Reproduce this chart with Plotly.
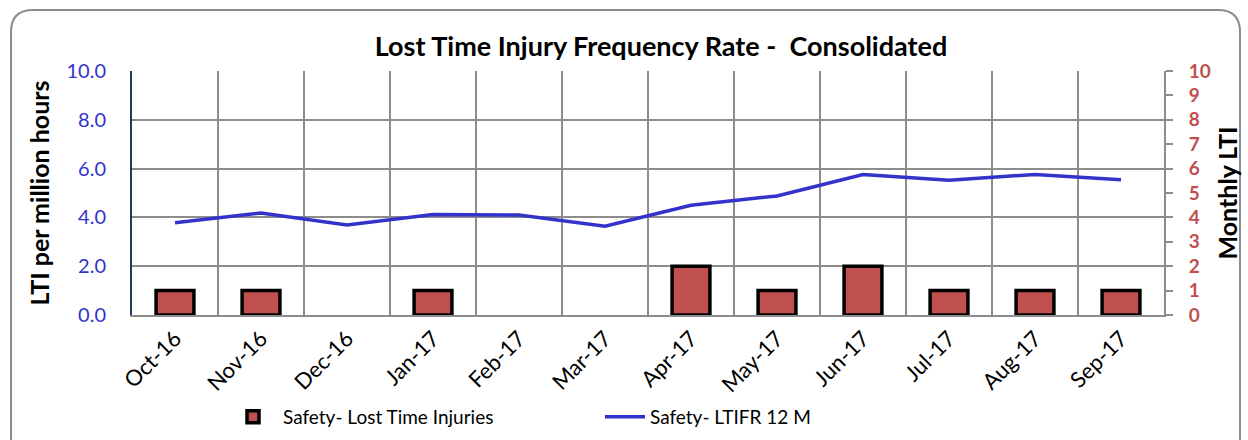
import plotly.graph_objects as go

months = ['Oct-16', 'Nov-16', 'Dec-16', 'Jan-17', 'Feb-17', 'Mar-17',
          'Apr-17', 'May-17', 'Jun-17', 'Jul-17', 'Aug-17', 'Sep-17']
lost_time_injuries = [1, 1, 0, 1, 0, 0, 2, 1, 2, 1, 1, 1]
ltifr_12m = [3.78, 4.18, 3.69, 4.12, 4.1, 3.64, 4.5, 4.88, 5.76, 5.52, 5.76, 5.54]

W, H = 1248, 440
L, R, T, B = 132, 84, 71, 125
font = 'Lato'
ph = H - T - B
pw = W - L - R

fig = go.Figure()
fig.add_trace(go.Bar(
    x=months, y=lost_time_injuries, yaxis='y2',
    name='Safety- Lost Time Injuries', legend='legend',
    marker=dict(color='#C0504D',
                line=dict(color='black', width=[3.5 if v else 0 for v in lost_time_injuries])),
    width=0.44,
))
fig.add_trace(go.Scatter(
    x=months, y=ltifr_12m, mode='lines',
    name='Safety- LTIFR 12 M', legend='legend2',
    line=dict(color='#3333CC', width=3.5),
))

leg_y = 1 - (417 - T) / ph
fig.update_layout(
    width=W, height=H, showlegend=True,
    margin=dict(l=L, r=R, t=T, b=B, autoexpand=False),
    paper_bgcolor='white', plot_bgcolor='white',
    font=dict(family=font, color='black'),
    title=dict(text='<b>Lost Time Injury Frequency Rate -  Consolidated</b>',
               xref='container', x=661 / W, xanchor='center',
               yref='container', y=1 - 47 / H, yanchor='middle',
               font=dict(size=27, color='black')),
    xaxis=dict(type='category', tickson='boundaries', showgrid=True, gridcolor='#8C8C8C',
               gridwidth=2, tickangle=-45, tickfont=dict(size=22, color='black'),
               showline=True, linecolor='#8C8C8C', linewidth=2, ticks='', zeroline=False,
               automargin=False),
    yaxis=dict(range=[0, 10], dtick=2, tickformat='.1f', showgrid=True, gridcolor='#8C8C8C',
               gridwidth=2, tickfont=dict(size=20, color='#3333CC'), showline=True,
               linecolor='#1F3864', linewidth=2, zeroline=False, ticks='',
               ticklabelstandoff=20, automargin=False,
               title=dict(text='<b>LTI per million hours</b>', font=dict(size=25), standoff=10)),
    yaxis2=dict(range=[0, 10], dtick=1, overlaying='y', side='right', showgrid=False,
                tickfont=dict(size=19, color='#C0504D', family=font, weight='bold'),
                showline=True, linecolor='#8C8C8C', linewidth=2, ticks='outside',
                ticklen=7, tickcolor='#8C8C8C', tickwidth=2, zeroline=False,
                ticklabelstandoff=12, automargin=False,
                title=dict(text='<b>Monthly LTI</b>', font=dict(size=25), standoff=10)),
    legend=dict(x=(223 - L) / pw, xanchor='left', y=leg_y, yanchor='middle', itemwidth=50,
                bgcolor='rgba(0,0,0,0)', font=dict(size=19)),
    legend2=dict(x=(600 - L) / pw, xanchor='left', y=leg_y, yanchor='middle', itemwidth=40,
                 bgcolor='rgba(0,0,0,0)', font=dict(size=19)),
    bargap=0.5,
)

# rounded chart border
def px_x(v):
    return (v - L) / pw
def px_y(v):
    return 1 - (v - T) / ph
x0, x1, y0, y1, r = 11, 1240, 10, 452, 22
path = (f'M {px_x(x0 + r)} {px_y(y0)} L {px_x(x1 - r)} {px_y(y0)} '
        f'Q {px_x(x1)} {px_y(y0)} {px_x(x1)} {px_y(y0 + r)} L {px_x(x1)} {px_y(y1)} '
        f'L {px_x(x0)} {px_y(y1)} L {px_x(x0)} {px_y(y0 + r)} '
        f'Q {px_x(x0)} {px_y(y0)} {px_x(x0 + r)} {px_y(y0)} Z')
fig.add_shape(type='path', path=path, xref='paper', yref='paper',
              line=dict(color='#8C8C8C', width=2), layer='below')

# page body has an 8px default margin; drop it so the chart sits at 0,0
fig.write_html('out.html', config={'displayModeBar': False},
               post_script="document.body.style.margin='0';")
